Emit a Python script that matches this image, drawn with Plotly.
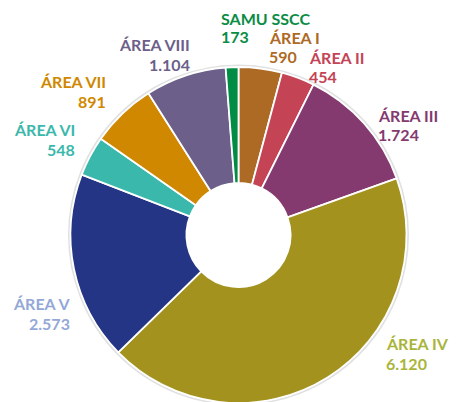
import plotly.graph_objects as go

# datos
areas = ["ÁREA I", "ÁREA II", "ÁREA III", "ÁREA IV", "ÁREA V",
         "ÁREA VI", "ÁREA VII", "ÁREA VIII", "SAMU SSCC"]
valores = [590, 454, 1724, 6120, 2573, 548, 891, 1104, 173]

colores = ["#ad6a24", "#c44456", "#843a6f", "#a3931e", "#253585",
           "#3ab8ac", "#d08800", "#6c5f8a", "#008c45"]
colores_texto = ["#ad6a24", "#c44456", "#843a6f", "#a9b53a", "#94a8d8",
                 "#3ab8ac", "#d08800", "#6c5f8a", "#0a8c45"]

W, H = 457, 402
OFF = 8  # margen del body de la pagina

# posicion de las etiquetas en pixeles de la captura:
# (x borde, y nombre, y valor, anclaje)
pos_etiquetas = [
    (269, 37, 55, "left"),
    (309, 57, 75, "left"),
    (378, 114, 133, "left"),
    (386, 342, 362, "left"),
    (70, 302, 322, "right"),
    (75, 128, 148, "right"),
    (106, 81, 100, "right"),
    (190, 44, 63, "right"),
    (221, 17, 36, "left"),
]

def fmt(v):
    return f"{v:,}".replace(",", ".")

fig = go.Figure()

cx, cy, r = 238.5 - OFF, 235 - OFF, 168
fig.add_trace(go.Pie(
    labels=areas,
    values=valores,
    sort=False,
    direction="clockwise",
    rotation=0,
    hole=0.31,
    marker=dict(colors=colores, line=dict(color="white", width=1.8)),
    textinfo="none",
    showlegend=False,
    domain=dict(x=[(cx - r) / W, (cx + r) / W], y=[(H - cy - r) / H, (H - cy + r) / H]),
))

# sombra suave alrededor
fig.add_shape(type="circle", xref="paper", yref="paper",
              x0=(cx - r - 1.5) / W, x1=(cx + r + 1.5) / W,
              y0=(H - cy - r - 1.5) / H, y1=(H - cy + r + 1.5) / H,
              line=dict(color="rgba(0,0,0,0.12)", width=2), layer="below")

for nombre, v, col, (px_, y1, y2, anc) in zip(areas, valores, colores_texto, pos_etiquetas):
    x = px_ - OFF
    for txt, yy in ((nombre, y1), (fmt(v), y2)):
        fig.add_annotation(
            x=x / W, y=1 - (yy - OFF + 1) / H, xref="paper", yref="paper",
            text=f"<b>{txt}</b>",
            showarrow=False, xanchor=anc, yanchor="middle", align=anc,
            borderpad=0, borderwidth=0,
            font=dict(family="Lato", size=16, color=col),
        )

fig.update_layout(
    width=W, height=H,
    margin=dict(l=0, r=0, t=0, b=0),
    paper_bgcolor="white",
    plot_bgcolor="white",
)

fig.write_html("out.html")
